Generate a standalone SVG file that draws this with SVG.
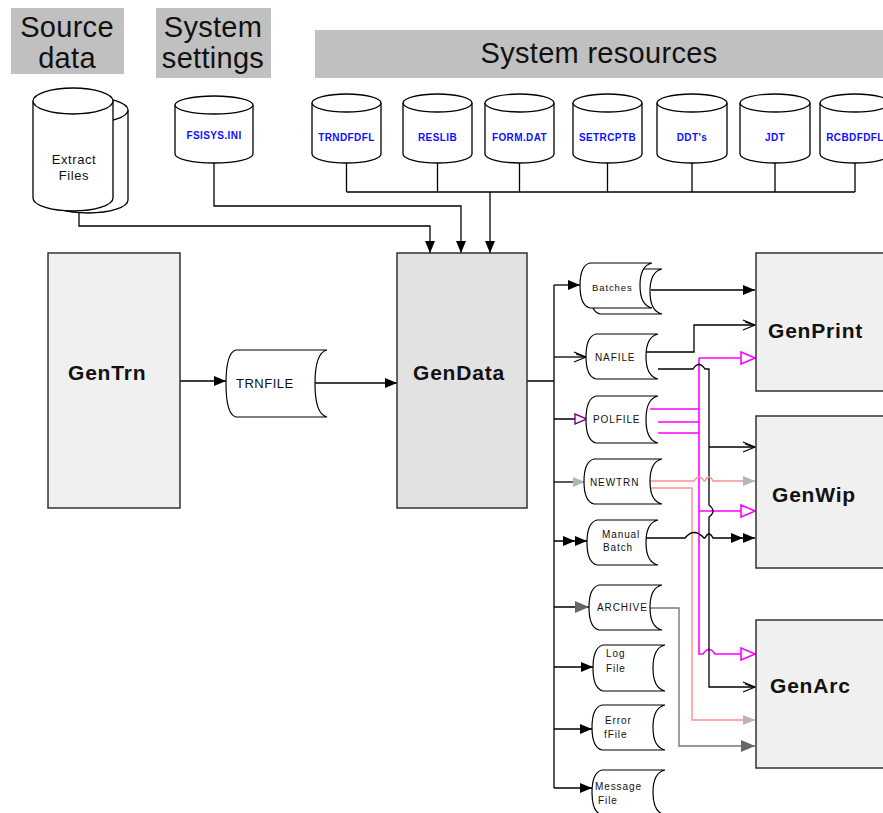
<svg xmlns="http://www.w3.org/2000/svg" width="883" height="813" viewBox="0 0 883 813">
<style>
.hdr{font-family:"Liberation Sans",Arial,sans-serif;font-size:29px;fill:#111;text-anchor:middle;letter-spacing:0.3px}
.hbox{fill:#c0c0c0}
.gen{font-family:"Liberation Sans",Arial,sans-serif;font-size:21px;font-weight:bold;fill:#111;letter-spacing:0.8px}
.box{fill:#f0f0f0;stroke:#333;stroke-width:1.5}
.cyl{fill:#fff;stroke:#000;stroke-width:1.3}
.res{font-family:"Liberation Sans",Arial,sans-serif;font-size:10px;font-weight:bold;fill:#1010ff;text-anchor:middle;letter-spacing:0.4px}
.file{fill:#fff;stroke:#000;stroke-width:1.2}
.ft{font-family:"Liberation Sans",Arial,sans-serif;font-size:10px;fill:#111;letter-spacing:0.9px}
.blk{fill:none;stroke:#000;stroke-width:1.3}
.mag{fill:none;stroke:#ff00ff;stroke-width:1.6}
.pink{fill:none;stroke:#ff9090;stroke-width:1.4}
.gry{fill:none;stroke:#777;stroke-width:1.4}
</style>
<defs>
<marker id="aF" viewBox="0 0 12 10" markerWidth="12" markerHeight="10" refX="12" refY="5" orient="auto" markerUnits="userSpaceOnUse"><path d="M0,0 L12,5 L0,10 z" fill="#000"/></marker>
<marker id="aC" viewBox="0 0 14 12" markerWidth="14" markerHeight="12" refX="13" refY="6" orient="auto" markerUnits="userSpaceOnUse"><path d="M1,1 L13,6 L1,11 M3,3 L12,6" fill="none" stroke="#000" stroke-width="1.2"/></marker>
<marker id="aM" viewBox="0 0 16 14" markerWidth="16" markerHeight="14" refX="15" refY="7" orient="auto" markerUnits="userSpaceOnUse"><path d="M1,1 L15,7 L1,13 z" fill="#fff" stroke="#ff00ff" stroke-width="1.6"/></marker>
<marker id="aP" viewBox="0 0 14 12" markerWidth="14" markerHeight="12" refX="13" refY="6" orient="auto" markerUnits="userSpaceOnUse"><path d="M1,1 L13,6 L1,11 z" fill="#fff" stroke="#800080" stroke-width="1.4"/></marker>
<marker id="aL" viewBox="0 0 12 10" markerWidth="12" markerHeight="10" refX="12" refY="5" orient="auto" markerUnits="userSpaceOnUse"><path d="M0,0 L12,5 L0,10 z" fill="#b4b4b4"/></marker>
<marker id="aD" viewBox="0 0 14 12" markerWidth="14" markerHeight="12" refX="14" refY="6" orient="auto" markerUnits="userSpaceOnUse"><path d="M0,0 L14,6 L0,12 z" fill="#666"/></marker>
<marker id="aDD" viewBox="0 0 24 10" markerWidth="24" markerHeight="10" refX="24" refY="5" orient="auto" markerUnits="userSpaceOnUse"><path d="M0,0 L12,5 L0,10 z M12,0 L24,5 L12,10 z" fill="#000"/></marker>
</defs>
<rect width="883" height="813" fill="#fff"/>

<g id="hdr-source"><rect class="hbox" x="11" y="8" width="113" height="66"/><text class="hdr" x="67" y="37">Source</text><text class="hdr" x="67" y="68">data</text></g>
<g id="hdr-settings"><rect class="hbox" x="156" y="8" width="115" height="70"/><text class="hdr" x="213" y="37">System</text><text class="hdr" x="213" y="68">settings</text></g>
<g id="hdr-resources"><rect class="hbox" x="315" y="30" width="570" height="48"/><text class="hdr" x="599" y="63">System resources</text></g>

<g id="connectors">
<path class="blk" d="M346.5,163 V192 M437.5,163 V192 M519.5,163 V192 M607.5,163 V192 M692,163 V192 M775,163 V192 M855,163 V192 M346.5,192 H855"/>
<path class="blk" d="M490,192 V253" marker-end="url(#aF)"/>
<path class="blk" d="M214,163 V206 H461 V253" marker-end="url(#aF)"/>
<path class="blk" d="M79,211 V226 H430 V253" marker-end="url(#aF)"/>
<path class="blk" d="M180,381 H226" marker-end="url(#aF)"/>
<path class="blk" d="M315,383 H397" marker-end="url(#aF)"/>
<path class="blk" d="M527,381 H554 M554,285 V788"/>
<path class="blk" d="M554,285 H580" marker-end="url(#aF)"/>
<path class="blk" d="M554,357 H586" marker-end="url(#aC)"/>
<path class="blk" d="M554,419 H587" marker-end="url(#aP)"/>
<path class="blk" d="M554,482 H585" marker-end="url(#aL)"/>
<path class="blk" d="M554,541 H587" marker-end="url(#aDD)"/>
<path class="blk" d="M554,607 H589" marker-end="url(#aD)"/>
<path class="blk" d="M554,667 H593" marker-end="url(#aF)"/>
<path class="blk" d="M554,729 H592" marker-end="url(#aF)"/>
<path class="blk" d="M554,788 H592" marker-end="url(#aF)"/>
<path class="blk" d="M651,290 H755" marker-end="url(#aF)"/>
<path class="blk" d="M646,352 H694 V325 H755" marker-end="url(#aC)"/>
<path class="mag" d="M650,409 H699 M658,422 H699 M658,433 H699"/>
<path class="mag" d="M699,358 H755" marker-end="url(#aM)"/>
<path class="mag" d="M699,511 H755" marker-end="url(#aM)"/>
<path class="mag" d="M699,358 V654 H703 Q709,645 715,654 H755" marker-end="url(#aM)"/>
<path class="blk" d="M658,369 H693 Q699,360 705,369 H709 V505 Q717,511 709,517 V687 H755" marker-end="url(#aC)"/>
<path class="blk" d="M709,447 H755" marker-end="url(#aC)"/>
<path class="pink" d="M650,481 H694 Q699,473 704,481 H705 Q709,473 713,481 H755" marker-end="url(#aL)"/>
<path class="pink" d="M650,488 H692 V720 H755" marker-end="url(#aL)"/>
<path class="blk" d="M646,538 H685 Q694,527 704,538 H705 Q709,530 713,538 H755" marker-end="url(#aDD)"/>
<path class="gry" d="M645,608 H679 V746 H755" marker-end="url(#aD)"/>
</g>

<g id="extract-files">
<path class="cyl" d="M48,110 V200 A40,13 0 0 0 128,200 V110"/><ellipse class="cyl" cx="88" cy="110" rx="40" ry="13"/>
<path class="cyl" d="M33,101 V198 A40,13 0 0 0 113,198 V101"/><ellipse class="cyl" cx="73" cy="101" rx="40" ry="13"/>
<text class="ft" x="74" y="164" text-anchor="middle" style="font-size:13px;letter-spacing:0.6px">Extract</text>
<text class="ft" x="74" y="180" text-anchor="middle" style="font-size:13px;letter-spacing:0.6px">Files</text>
</g>
<g id="fsisys"><path class="cyl" d="M175,105 V154 A39,9 0 0 0 253,154 V105"/><ellipse class="cyl" cx="214" cy="105" rx="39" ry="9"/><text class="res" x="214" y="139">FSISYS.INI</text></g>
<g id="r-trndfdfl"><path class="cyl" d="M312,103 V154 A34.5,9 0 0 0 381,154 V103"/><ellipse class="cyl" cx="346.5" cy="103" rx="34.5" ry="9"/><text class="res" x="346.5" y="141">TRNDFDFL</text></g>
<g id="r-reslib"><path class="cyl" d="M403,103 V154 A34.5,9 0 0 0 472,154 V103"/><ellipse class="cyl" cx="437.5" cy="103" rx="34.5" ry="9"/><text class="res" x="437.5" y="141">RESLIB</text></g>
<g id="r-formdat"><path class="cyl" d="M485,103 V154 A34.5,9 0 0 0 554,154 V103"/><ellipse class="cyl" cx="519.5" cy="103" rx="34.5" ry="9"/><text class="res" x="519.5" y="141">FORM.DAT</text></g>
<g id="r-setrcptb"><path class="cyl" d="M573,103 V154 A34.5,9 0 0 0 642,154 V103"/><ellipse class="cyl" cx="607.5" cy="103" rx="34.5" ry="9"/><text class="res" x="607.5" y="141">SETRCPTB</text></g>
<g id="r-ddts"><path class="cyl" d="M657,103 V154 A35,9 0 0 0 727,154 V103"/><ellipse class="cyl" cx="692" cy="103" rx="35" ry="9"/><text class="res" x="692" y="141">DDT's</text></g>
<g id="r-jdt"><path class="cyl" d="M740,103 V154 A35,9 0 0 0 810,154 V103"/><ellipse class="cyl" cx="775" cy="103" rx="35" ry="9"/><text class="res" x="775" y="141">JDT</text></g>
<g id="r-rcbdfdfl"><path class="cyl" d="M820,103 V154 A35,9 0 0 0 890,154 V103"/><ellipse class="cyl" cx="855" cy="103" rx="35" ry="9"/><text class="res" x="855" y="141">RCBDFDFL</text></g>

<g id="gentrn"><rect class="box" x="48" y="253" width="132" height="255"/><text class="gen" x="68" y="380">GenTrn</text></g>
<g id="trnfile"><path class="file" d="M236,350 H327 C318,352 315,366.75 315,383.5 C315,400.25 318,415 327,417 H236 C228,415 226,400.25 226,383.5 C226,366.75 228,352 236,350 Z"/><text class="ft" x="236" y="388" style="font-size:13px;letter-spacing:0.5px">TRNFILE</text></g>
<g id="gendata"><rect class="box" x="397" y="253" width="130" height="255" style="fill:#e2e2e2"/><text class="gen" x="413" y="380">GenData</text></g>

<g id="f-batches">
<path class="file" d="M600,269 H662 C653,271 650,280.25 650,291.5 C650,302.75 653,312 662,314 H600 C592,312 590,302.75 590,291.5 C590,280.25 592,271 600,269 Z"/>
<path class="file" d="M590,263 H652 C643,265 640,274.25 640,285.5 C640,296.75 643,306 652,308 H590 C582,306 580,296.75 580,285.5 C580,274.25 582,265 590,263 Z"/>
<text class="ft" x="592" y="291" style="font-size:9.5px">Batches</text></g>
<g id="f-nafile"><path class="file" d="M596,334 H658 C649,336 646,345.25 646,356.5 C646,367.75 649,377 658,379 H596 C588,377 586,367.75 586,356.5 C586,345.25 588,336 596,334 Z"/><text class="ft" x="595" y="361">NAFILE</text></g>
<g id="f-polfile"><path class="file" d="M596,396 H658 C649,398 646,407.75 646,419.5 C646,431.25 649,441 658,443 H596 C588,441 586,431.25 586,419.5 C586,407.75 588,398 596,396 Z"/><text class="ft" x="593" y="423">POLFILE</text></g>
<g id="f-newtrn"><path class="file" d="M594,459 H662 C653,461 650,470.25 650,481.5 C650,492.75 653,502 662,504 H594 C586,502 584,492.75 584,481.5 C584,470.25 586,461 594,459 Z"/><text class="ft" x="590" y="486">NEWTRN</text></g>
<g id="f-manual"><path class="file" d="M597,520 H658 C649,522 646,531.25 646,542.5 C646,553.75 649,563 658,565 H597 C589,563 587,553.75 587,542.5 C587,531.25 589,522 597,520 Z"/><text class="ft" x="602" y="538">Manual</text><text class="ft" x="603" y="551">Batch</text></g>
<g id="f-archive"><path class="file" d="M599,585 H662 C653,587 650,596.25 650,607.5 C650,618.75 653,628 662,630 H599 C591,628 589,618.75 589,607.5 C589,596.25 591,587 599,585 Z"/><text class="ft" x="597" y="611">ARCHIVE</text></g>
<g id="f-log"><path class="file" d="M603,645 H665 C656,647 653,656.5 653,668 C653,679.5 656,689 665,691 H603 C595,689 593,679.5 593,668 C593,656.5 595,647 603,645 Z"/><text class="ft" x="606" y="657">Log</text><text class="ft" x="606" y="672">File</text></g>
<g id="f-error"><path class="file" d="M602,705 H665 C656,707 653,716.25 653,727.5 C653,738.75 656,748 665,750 H602 C594,748 592,738.75 592,727.5 C592,716.25 594,707 602,705 Z"/><text class="ft" x="605" y="724">Error</text><text class="ft" x="604" y="738">fFile</text></g>
<g id="f-message"><path class="file" d="M602,770 H665 C656,772 653,781.25 653,792.5 C653,803.75 656,813 665,815 H602 C594,813 592,803.75 592,792.5 C592,781.25 594,772 602,770 Z"/><text class="ft" x="595" y="790">Message</text><text class="ft" x="598" y="804">File</text></g>

<g id="genprint"><rect class="box" x="756" y="253" width="140" height="138"/><text class="gen" x="768" y="338">GenPrint</text></g>
<g id="genwip"><rect class="box" x="756" y="416" width="140" height="152"/><text class="gen" x="772" y="502">GenWip</text></g>
<g id="genarc"><rect class="box" x="756" y="620" width="140" height="148"/><text class="gen" x="770" y="693">GenArc</text></g>
</svg>
